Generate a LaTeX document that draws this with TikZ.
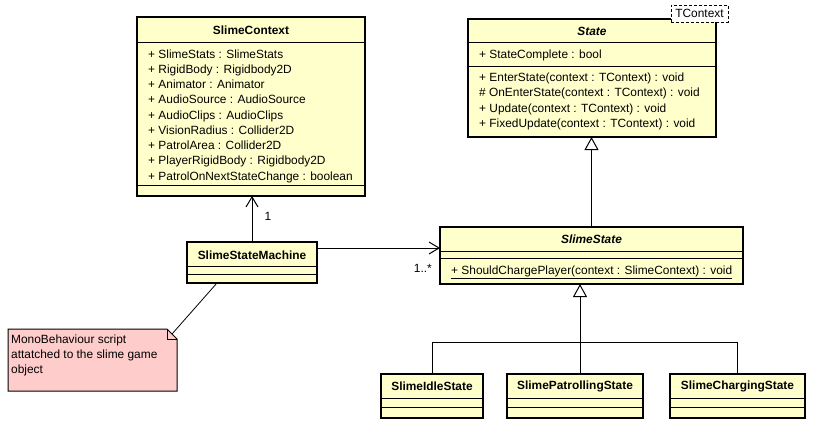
\documentclass[tikz,border=0pt]{standalone}
\usepackage{fontspec}
\setmainfont{Liberation Sans}
\usetikzlibrary{arrows.meta}

\definecolor{classFill}{HTML}{FFFFCC}
\definecolor{noteFill}{HTML}{FFCCCC}

\begin{document}
\begin{tikzpicture}[x=1pt, y=-1pt,
		classBox/.style={rectangle, draw, line width=2pt, fill=classFill, inner sep=0pt, outer sep=0pt},
		sepLine/.style={line width=1pt},
		headText/.style={font=\fontsize{11.9}{13}\selectfont\bfseries, inner sep=0pt},
		absText/.style={font=\fontsize{11.9}{13}\selectfont\bfseries\itshape, inner sep=0pt},
		memberText/.style={anchor=west, font=\fontsize{11.9}{13}\selectfont, inner sep=0pt, text height=8pt, text depth=0pt},
		assoc/.style={line width=1pt, -{Straight Barb[length=10pt, width=12pt]}},
		inherit/.style={line width=1pt, -{Triangle[length=13pt, width=14pt, fill=white]}},
		link/.style={line width=1pt}]
		
		\useasboundingbox[fill=white] (0,0) rectangle (813,426);
		
		% Classes
		
		\node[classBox, minimum width=228pt, minimum height=179pt] 
		(contextNode) at (251,106.5) {};
		
		\node[classBox, minimum width=248pt, minimum height=118pt] 
		(stateNode) at (592,78) {};
		
		\node[classBox, minimum width=130pt, minimum height=41pt] 
		(machineNode) at (252,262.5) {};
		
		\node[classBox, minimum width=303pt, minimum height=57pt] 
		(slimeStateNode) at (591.5,255.5) {};
		
		\node[classBox, minimum width=102pt, minimum height=44pt] 
		(idleNode) at (432,396) {};
		
		\node[classBox, minimum width=136pt, minimum height=44pt] 
		(patrolNode) at (575,396) {};
		
		\node[classBox, minimum width=135pt, minimum height=44pt] 
		(chargeNode) at (737.5,396) {};
		
		% Compartments
		
		\draw[sepLine] ([yshift=-25pt]contextNode.north west) -- ([yshift=-25pt]contextNode.north east);
		\draw[sepLine] ([yshift=-168pt]contextNode.north west) -- ([yshift=-168pt]contextNode.north east);
		
		\draw[sepLine] ([yshift=-23pt]stateNode.north west) -- ([yshift=-23pt]stateNode.north east);
		\draw[sepLine] ([yshift=-47pt]stateNode.north west) -- ([yshift=-47pt]stateNode.north east);
		
		\draw[sepLine] ([yshift=-24pt]machineNode.north west) -- ([yshift=-24pt]machineNode.north east);
		\draw[sepLine] ([yshift=-32pt]machineNode.north west) -- ([yshift=-32pt]machineNode.north east);
		
		\draw[sepLine] ([yshift=-24pt]slimeStateNode.north west) -- ([yshift=-24pt]slimeStateNode.north east);
		\draw[sepLine] ([yshift=-31pt]slimeStateNode.north west) -- ([yshift=-31pt]slimeStateNode.north east);
		
		\draw[sepLine] ([yshift=-24pt]idleNode.north west) -- ([yshift=-24pt]idleNode.north east);
		\draw[sepLine] ([yshift=-33pt]idleNode.north west) -- ([yshift=-33pt]idleNode.north east);
		
		\draw[sepLine] ([yshift=-24pt]patrolNode.north west) -- ([yshift=-24pt]patrolNode.north east);
		\draw[sepLine] ([yshift=-33pt]patrolNode.north west) -- ([yshift=-33pt]patrolNode.north east);
		
		\draw[sepLine] ([yshift=-24pt]chargeNode.north west) -- ([yshift=-24pt]chargeNode.north east);
		\draw[sepLine] ([yshift=-33pt]chargeNode.north west) -- ([yshift=-33pt]chargeNode.north east);
		
		% Titles
		
		\node[headText] (contextTitle) at ([yshift=-13pt]contextNode.north) {SlimeContext};
		\node[absText] (stateTitle) at ([yshift=-12pt]stateNode.north) {State};
		\node[headText] (machineTitle) at ([yshift=-13pt]machineNode.north) {SlimeStateMachine};
		\node[absText] (slimeStateTitle) at ([yshift=-12pt]slimeStateNode.north) {SlimeState};
		\node[headText] (idleTitle) at ([yshift=-12pt]idleNode.north) {SlimeIdleState};
		\node[headText] (patrolTitle) at ([yshift=-12pt]patrolNode.north) {SlimePatrollingState};
		\node[headText] (chargeTitle) at ([yshift=-12pt]chargeNode.north) {SlimeChargingState};
		
		% Members
		
		\node[memberText] (contextAttr1) at (148,54) {+ SlimeStats : SlimeStats};
		\node[memberText] (contextAttr2) at (148,69.25) {+ RigidBody : Rigidbody2D};
		\node[memberText] (contextAttr3) at (148,84.5) {+ Animator : Animator};
		\node[memberText] (contextAttr4) at (148,99.75) {+ AudioSource : AudioSource};
		\node[memberText] (contextAttr5) at (148,115) {+ AudioClips : AudioClips};
		\node[memberText] (contextAttr6) at (148,130.25) {+ VisionRadius : Collider2D};
		\node[memberText] (contextAttr7) at (148,145.5) {+ PatrolArea : Collider2D};
		\node[memberText] (contextAttr8) at (148,160.75) {+ PlayerRigidBody : Rigidbody2D};
		\node[memberText] (contextAttr9) at (148,176) {+ PatrolOnNextStateChange : boolean};
		
		\node[memberText] (stateAttr1) at (479,54) {+ StateComplete : bool};
		\node[memberText] (stateOp1) at (479,77.5) {+ EnterState(context : TContext) : void};
		\node[memberText] (stateOp2) at (479,92.75) {\# OnEnterState(context : TContext) : void};
		\node[memberText] (stateOp3) at (479,108) {+ Update(context : TContext) : void};
		\node[memberText] (stateOp4) at (479,123.25) {+ FixedUpdate(context : TContext) : void};
		
		\node[memberText] (slimeStateOp1) at (451,270) {\underline{+ ShouldChargePlayer(context : SlimeContext) : void}};
		
		% Template parameter
		
		\node[draw, dash pattern=on 3pt off 2pt, line width=1pt, fill=white, minimum width=57pt, minimum height=17pt, inner sep=0pt, font=\fontsize{11.9}{13}\selectfont] 
		(paramNode) at (699.5,13.5) {TContext};
		
		% Note
		
		\node[minimum width=169pt, minimum height=62pt, inner sep=0pt, outer sep=0pt] 
		(noteNode) at (92.5,360) {};
		
		\filldraw[fill=noteFill, line width=1pt] (noteNode.north west) -- ([xshift=-10pt]noteNode.north east) -- ([yshift=-10pt]noteNode.north east) -- (noteNode.south east) -- (noteNode.south west) -- cycle;
		\draw[link] ([xshift=-10pt]noteNode.north east) |- ([yshift=-10pt]noteNode.north east);
		
		\node[memberText] (noteLine1) at (11,339.5) {MonoBehaviour script};
		\node[memberText] (noteLine2) at (11,354.5) {attatched to the slime game};
		\node[memberText] (noteLine3) at (11,369) {object};
		
		\draw[line width=0.8pt] ([xshift=-5pt,yshift=-5pt]noteNode.north east) -- ([xshift=-35pt]machineNode.south);
		
		% Associations
		
		\draw[assoc] (machineNode.north) -- (machineNode.north |- contextNode.south);
		\node[memberText, anchor=center] (oneLabel) at (268,216) {1};
		
		\coordinate (assocStart) at ([yshift=-6pt]machineNode.north east);
		\draw[assoc] (assocStart) -- (assocStart -| slimeStateNode.west);
		\node[memberText, anchor=east] (manyLabel) at (432,268) {1..*};
		
		% Generalizations
		
		\draw[inherit] (slimeStateNode.north) -- (slimeStateNode.north |- stateNode.south);
		
		\coordinate (forkPoint) at (580,342);
		\draw[inherit] (forkPoint) -- (forkPoint |- slimeStateNode.south);
		\draw[link] (idleNode.north) |- (forkPoint);
		\draw[link] (chargeNode.north) |- (forkPoint);
		\draw[link] (forkPoint) -- (forkPoint |- patrolNode.north);
		
	\end{tikzpicture}
\end{document}
